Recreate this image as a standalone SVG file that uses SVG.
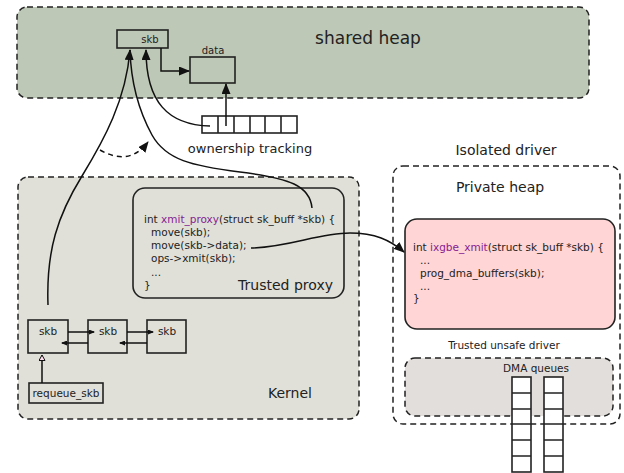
<svg xmlns="http://www.w3.org/2000/svg" width="624" height="473" viewBox="0 0 624 473">
<style>
text{font-family:"DejaVu Sans","Liberation Sans",sans-serif;fill:#222}
.dash{stroke:#222;stroke-width:1.5;stroke-dasharray:6,4}
.box{stroke:#222;stroke-width:1.6}
.code{font-size:10.5px}
.fn{fill:#851d93}
.line{fill:none;stroke:#111;stroke-width:1.5}
</style>
<defs>
<marker id="arr" markerUnits="userSpaceOnUse" markerWidth="11" markerHeight="9" refX="10" refY="4.5" orient="auto"><path d="M0,0 L11,4.5 L0,9 z" fill="#111"/></marker>
<marker id="sm" markerUnits="userSpaceOnUse" markerWidth="6" markerHeight="5" refX="5" refY="2.5" orient="auto"><path d="M0,0 L6,2.5 L0,5 z" fill="#111"/></marker>
<marker id="open" markerUnits="userSpaceOnUse" markerWidth="8" markerHeight="8" refX="6" refY="3.5" orient="auto"><path d="M0.5,0.5 L6,3.5 L0.5,6.5 z" fill="#fde" stroke="#111" stroke-width="1"/></marker>
</defs>

<g id="shared-heap">
<rect x="17" y="7" width="572" height="91" rx="10" fill="#bec8b6" class="dash"/>
<text x="368" y="44" font-size="17" text-anchor="middle">shared heap</text>
</g>
<g id="skb-shared">
<rect x="117" y="30" width="51" height="18" fill="#bec8b6" class="box"/>
<text x="150" y="43" font-size="10" text-anchor="middle">skb</text>
</g>
<g id="data">
<rect x="190" y="57" width="45" height="26" fill="#bec8b6" class="box"/>
<text x="213" y="54" font-size="10" text-anchor="middle">data</text>
</g>
<g id="ownership">
<rect x="202" y="116" width="95" height="17" fill="#fff" class="box"/>
<path d="M218,116V133M234,116V133M250,116V133M265,116V133M281,116V133" class="box"/>
<text x="250" y="153" font-size="13" text-anchor="middle">ownership tracking</text>
</g>

<g id="kernel">
<rect x="18" y="177" width="341" height="242" rx="10" fill="#e0e0d8" class="dash"/>
<text x="290" y="398" font-size="14" text-anchor="middle">Kernel</text>
</g>
<g id="proxy">
<rect x="133" y="188" width="211" height="110" rx="12" fill="#e0e0d8" class="box"/>
<text class="code" x="144" y="222.5">int <tspan class="fn">xmit_proxy</tspan>(struct sk_buff *skb) {</text>
<text class="code" x="151" y="235.8">move(skb);</text>
<text class="code" x="151" y="249.1">move(skb-&gt;data);</text>
<text class="code" x="151" y="262.4">ops-&gt;xmit(skb);</text>
<text class="code" x="151" y="275.7">...</text>
<text class="code" x="144" y="289">}</text>
<text x="333" y="290" font-size="14" text-anchor="end">Trusted proxy</text>
</g>
<g id="skb1">
<rect x="28" y="320" width="40" height="33" fill="#e0e0d8" class="box"/>
<text x="48" y="335" font-size="10.5" text-anchor="middle">skb</text>
</g>
<g id="skb2">
<rect x="88" y="320" width="39" height="33" fill="#e0e0d8" class="box"/>
<text x="108" y="335" font-size="10.5" text-anchor="middle">skb</text>
</g>
<g id="skb3">
<rect x="147" y="320" width="39" height="33" fill="#e0e0d8" class="box"/>
<text x="167" y="335" font-size="10.5" text-anchor="middle">skb</text>
</g>
<g id="requeue">
<rect x="29" y="383" width="74" height="20" fill="#e0e0d8" class="box"/>
<text x="66" y="397" font-size="10.5" text-anchor="middle">requeue_skb</text>
</g>

<g id="isolated-driver">
<text x="506" y="155" font-size="14" text-anchor="middle">Isolated driver</text>
<rect x="393" y="166" width="227" height="258" rx="10" fill="#fff" class="dash"/>
<text x="500" y="192" font-size="14" text-anchor="middle">Private heap</text>
<text x="504" y="349" font-size="10.5" text-anchor="middle">Trusted unsafe driver</text>
</g>
<g id="ixgbe">
<rect x="405" y="219" width="210" height="110" rx="12" fill="#ffd5d5" class="box"/>
<text class="code" x="413" y="251">int <tspan class="fn">ixgbe_xmit</tspan>(struct sk_buff *skb) {</text>
<text class="code" x="420" y="264">...</text>
<text class="code" x="420" y="277">prog_dma_buffers(skb);</text>
<text class="code" x="420" y="290">...</text>
<text class="code" x="413" y="302">}</text>
</g>
<g id="dma">
<rect x="405" y="358" width="208" height="58" rx="10" fill="#e2dedb" class="dash"/>
<text x="536" y="372" font-size="10.5" text-anchor="middle">DMA queues</text>
<rect x="512" y="377" width="19" height="95" fill="#fff" class="box"/>
<path d="M512,393H531M512,409H531M512,424H531M512,440H531M512,456H531" class="box"/>
<rect x="544" y="377" width="19" height="95" fill="#fff" class="box"/>
<path d="M544,393H563M544,409H563M544,424H563M544,440H563M544,456H563" class="box"/>
</g>

<g id="connectors">
<path d="M161,48V71H189" class="line" marker-end="url(#arr)"/>
<path d="M226,126V84" class="line" marker-end="url(#arr)"/>
<path d="M210,126C168,125 146,102 146,50" class="line" marker-end="url(#arr)"/>
<path d="M48,305C46,250 58,215 82,176C104,140 126,100 130,50" class="line" marker-end="url(#arr)"/>
<path d="M312,208C310,186 290,178 240,172C192,166 166,160 152,135C140,113 131,85 130,50" class="line"/>
<path d="M100,150C118,160 134,160 148,142" class="line" stroke-dasharray="5,4" marker-end="url(#arr)"/>
<path d="M251,248C290,247 318,233 350,233C375,233 390,240 404,252" class="line" marker-end="url(#arr)"/>
<path d="M68,332H94" class="line" marker-end="url(#sm)"/>
<path d="M88,343H62" class="line" marker-end="url(#sm)"/>
<path d="M127,332H153" class="line" marker-end="url(#sm)"/>
<path d="M147,343H120" class="line" marker-end="url(#sm)"/>
<path d="M42,383V355" class="line" marker-end="url(#open)"/>
</g>
</svg>
